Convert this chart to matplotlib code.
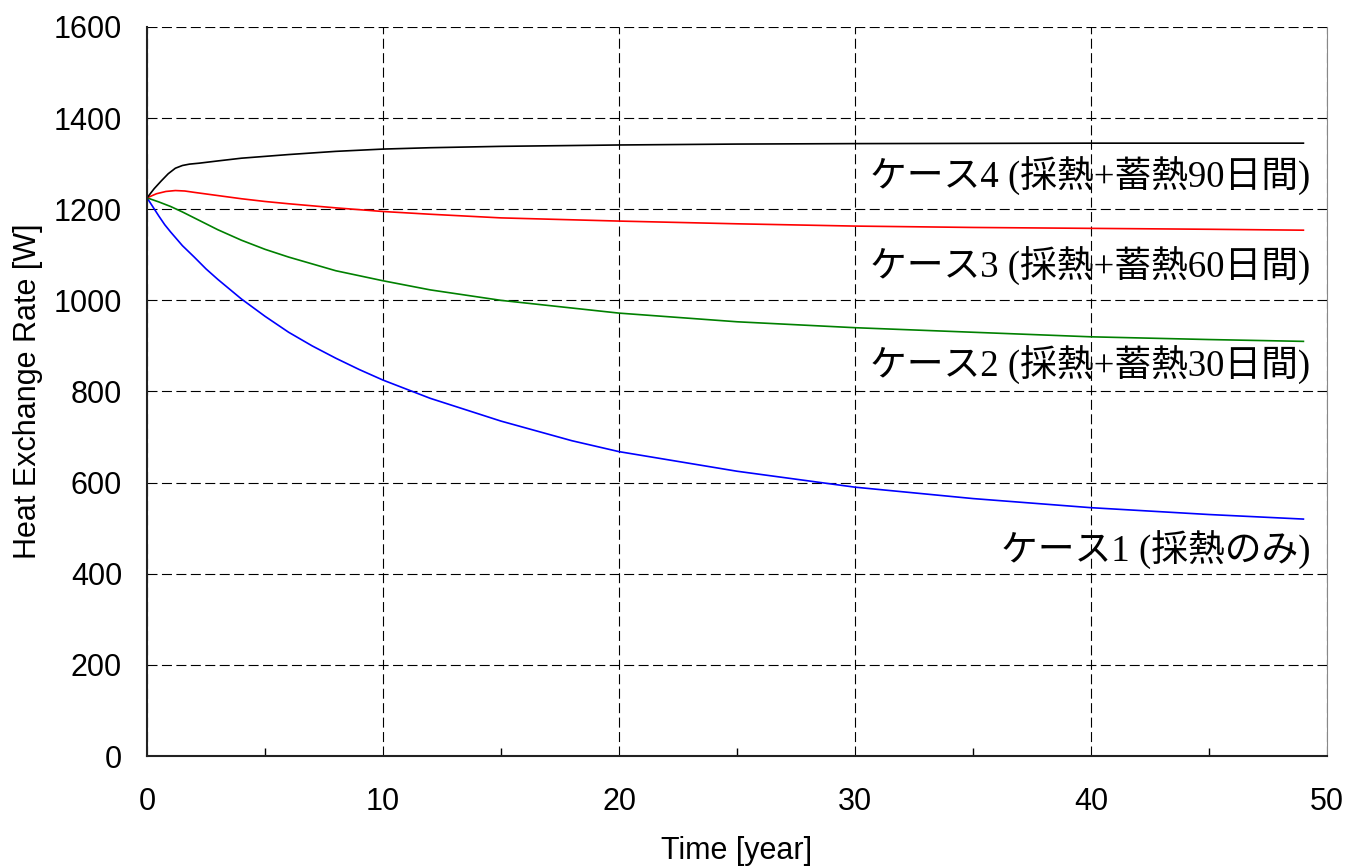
import numpy as np
import matplotlib
matplotlib.use("Agg")
import matplotlib.pyplot as plt

plt.rcParams['font.family'] = ['Liberation Sans', 'DejaVu Sans']

# values
t1 = [0, 0.25, 0.5, 0.75, 1, 1.5, 2, 2.5, 3, 4, 5, 6, 7, 8, 9, 10, 12, 15, 18, 20, 25, 30, 35, 40, 45, 49]
case1 = [1225, 1205, 1185, 1166, 1150, 1120, 1095, 1069, 1046, 1003, 965, 930, 900, 873, 848, 825, 785, 735, 692, 668, 625, 590, 565, 545, 530, 520]

t2 = [0, 0.5, 1, 1.5, 2, 3, 4, 5, 6, 8, 10, 12, 15, 20, 25, 30, 35, 40, 45, 49]
case2 = [1225, 1216, 1206, 1194, 1181, 1155, 1132, 1112, 1095, 1065, 1043, 1023, 1000, 972, 953, 940, 930, 920, 914, 910]

t3 = [0, 0.4, 0.8, 1.2, 1.6, 2, 3, 4, 5, 6, 8, 10, 12, 15, 20, 25, 30, 35, 40, 45, 49]
case3 = [1225, 1234, 1239, 1241, 1240, 1237, 1230, 1223, 1217, 1212, 1203, 1195, 1189, 1181, 1174, 1168, 1163, 1160, 1158, 1156, 1154]

t4 = [0, 0.3, 0.6, 0.9, 1.2, 1.5, 1.8, 2.2, 3, 4, 5, 6, 8, 10, 12, 15, 20, 25, 30, 40, 49]
case4 = [1225, 1245, 1262, 1278, 1290, 1296, 1299, 1301, 1306, 1312, 1316, 1320, 1327, 1332, 1335, 1338, 1341, 1343, 1344, 1345, 1345]

labels = ["ケース1 (採熱のみ)", "ケース2 (採熱+蓄熱30日間)",
          "ケース3 (採熱+蓄熱60日間)", "ケース4 (採熱+蓄熱90日間)"]
label_y = [452, 858, 1075, 1273]

fig = plt.figure(figsize=(13.49, 8.67), dpi=100)
ax = fig.add_axes([0.109, 0.128, 0.8747, 0.8409])

ax.plot(t1, case1, color='blue', lw=1.2)
ax.plot(t2, case2, color='green', lw=1.2)
ax.plot(t3, case3, color='red', lw=1.2)
ax.plot(t4, case4, color='black', lw=1.2)

for lab, yy in zip(labels, label_y):
    ax.text(49.3, yy, lab, ha='right', va='center', fontsize=26.5,
            family=['Liberation Serif', 'Noto Sans CJK JP'])

ax.set_xlim(0, 50)
ax.set_ylim(0, 1600)
ax.set_xticks(range(0, 51, 10))
ax.set_xticks(range(5, 50, 10), minor=True)
ax.set_yticks(range(0, 1601, 200))
ax.grid(True, which='major', color='black', ls=(0, (9, 4)), lw=0.8)

ax.tick_params(axis='both', which='both', direction='in', labelsize=22)
ax.tick_params(axis='x', which='major', length=0, pad=22)
ax.tick_params(axis='x', which='minor', length=6, width=1)
ax.tick_params(axis='y', length=0, pad=18)

ax.spines['top'].set_visible(False)
ax.spines['right'].set_color('#888888')
ax.spines['left'].set_linewidth(1.5)
ax.spines['bottom'].set_linewidth(1.5)
ax.spines['left'].set_color('#222222')
ax.spines['bottom'].set_color('#222222')

ax.set_xlabel("Time [year]", fontsize=22, labelpad=14)
ax.set_ylabel("Heat Exchange Rate [W]", fontsize=22, labelpad=8)

fig.savefig("out.png", dpi=100)
